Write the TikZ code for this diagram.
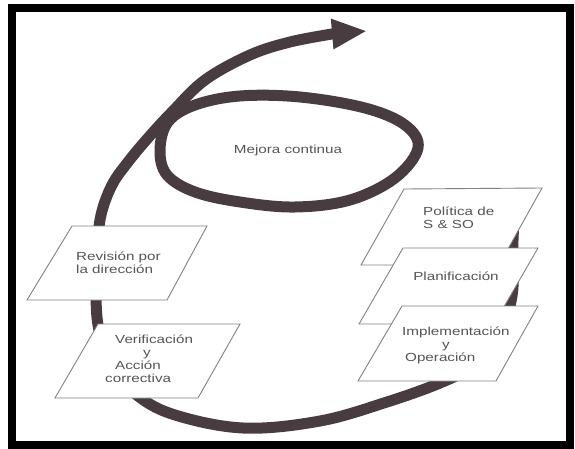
\documentclass[tikz,border=0pt]{standalone}
\usepackage{fontspec}
\setmainfont{Liberation Sans}[FakeStretch=1.3]
\usetikzlibrary{arrows.meta}
\definecolor{spiralgray}{RGB}{72,60,64}
\definecolor{boxgray}{RGB}{130,130,130}
\definecolor{textgray}{RGB}{85,85,85}

\begin{document}
\begin{tikzpicture}[x=1pt,y=-1pt]
    % Setup the styles for the spiral and the stages
        \tikzset{spiral/.style={draw=spiralgray,
                                line width=11pt},
                 stage box/.style={draw=boxgray,
                                   fill=white,
                                   line width=0.9pt},
                 stage text/.style={text=textgray,
                                    inner sep=0pt,
                                    align=left,
                                    font=\fontsize{11.7}{13}\selectfont}}
        \useasboundingbox (0,0) rectangle (575,449);
        % Frame
        \draw[line width=8pt] (12,8) rectangle (570,445);
        % Draw the spiral
        \draw[spiral, -{Triangle[length=35pt,width=28pt]}]
        plot[smooth, tension=0.6] coordinates {(515,205) (513,240) (512,296)
            (497,338) (470,367) (440,383) (387,402) (320,421) (243,428)
            (172,414) (133,392) (108,362) (98,325) (96,290) (97,250)
            (101,215) (112,185) (128,162) (148,138) (172,112) (205,80)
            (250,55) (290,42) (332,34)} -- (367,31);
        \draw[spiral]
        plot[smooth cycle, tension=0.6] coordinates {(160,150) (167,175)
            (195,192) (240,202) (295,207) (350,200) (395,178) (418,148)
            (405,125) (365,108) (300,97) (240,96) (195,105) (168,122)};
        \node[stage text] (mejora) at (288,150) {Mejora continua};
        % Draw the stages
        \draw[stage box] (72,226) -- (207,226) -- (167,300) -- (27,300) -- cycle;
        \node[stage text, anchor=west] (revision) at (76,263)
            {Revisión por\\la dirección};
        \draw[stage box] (98,324) -- (240,324) -- (198,398) -- (55,398) -- cycle;
        \node[stage text, anchor=west] (verificacion) at (105,359)
            {\hspace*{10pt}Verificación\\\hspace*{38pt}y\\\hspace*{10pt}Acción\\correctiva};
        \draw[stage box] (404,189) -- (542,188) -- (499,265) -- (361,265) -- cycle;
        \node[stage text, anchor=west] (politica) at (423,218)
            {Política de\\S \& SO};
        \draw[stage box] (403,248) -- (538,248) -- (494,324) -- (359,324) -- cycle;
        \node[stage text] (planificacion) at (456,276) {Planificación};
        \draw[stage box] (402,306) -- (538,306) -- (496,381) -- (358,381) -- cycle;
        \node[stage text, anchor=west] (implementacion) at (402,345)
            {Implementación\\\hspace*{40pt}y\\\hspace*{3pt}Operación};
\end{tikzpicture}
\end{document}
